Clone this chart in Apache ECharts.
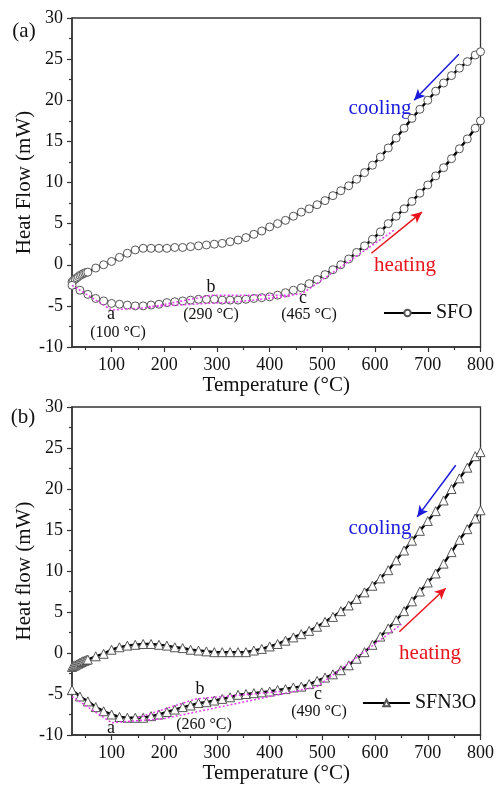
<!DOCTYPE html>
<html>
<head>
<meta charset="utf-8">
<script src="https://cdn.jsdelivr.net/npm/echarts@6/dist/echarts.min.js"></script>
<style>
  html, body { margin: 0; padding: 0; background: #fff; }
  #chart { width: 497px; height: 791px; }
</style>
</head>
<body>
<div id="chart"></div>
<script>
// temperature grids (°C)
var tempCool = [25, 28, 31, 34, 37, 40, 43, 46, 49, 52, 55, 70, 85, 100, 115, 130, 145, 160, 175, 190, 205, 220, 235, 250, 265, 280, 295, 310, 325, 340, 355, 370, 385, 400, 415, 430, 445, 460, 475, 490, 505, 520, 535, 550, 565, 580, 595, 610, 625, 640, 655, 670, 685, 700, 715, 730, 745, 760, 775, 790, 800];
var tempHeat = [25, 40, 55, 70, 85, 100, 115, 130, 145, 160, 175, 190, 205, 220, 235, 250, 265, 280, 295, 310, 325, 340, 355, 370, 385, 400, 415, 430, 445, 460, 475, 490, 505, 520, 535, 550, 565, 580, 595, 610, 625, 640, 655, 670, 685, 700, 715, 730, 745, 760, 775, 790, 800];

// (a) SFO heat flow (mW)
var coolA = [-2.1, -1.9, -1.75, -1.6, -1.45, -1.3, -1.2, -1.1, -1.0, -0.95, -0.9,
  -0.4, 0.0, 0.4, 0.9, 1.4, 1.8, 2.0,
  2.0, 2.0, 2.0, 2.1, 2.1, 2.2, 2.3, 2.4, 2.5, 2.6,
  2.8, 3.0, 3.3, 3.7, 4.1, 4.6, 5.0, 5.4, 5.9, 6.4,
  6.8, 7.3, 7.8, 8.4, 9.0, 9.6, 10.4, 11.2, 12.1, 13.1,
  14.2, 15.4, 16.6, 17.8, 18.9, 20.0, 21.1, 22.1, 23.0, 23.9,
  24.7, 25.5, 25.9];
var heatA = [-2.5, -3.1, -3.6, -4.1, -4.4, -4.7, -4.8, -4.9, -5.0, -5.0,
  -4.9, -4.8, -4.6, -4.5, -4.4, -4.3, -4.2, -4.2, -4.2, -4.3,
  -4.3, -4.3, -4.2, -4.1, -4.0, -3.9, -3.7, -3.4, -3.1, -2.8,
  -2.3, -1.8, -1.2, -0.6, 0.0, 0.7, 1.5, 2.3, 3.1, 4.0,
  5.0, 5.9, 6.8, 7.7, 8.7, 9.7, 10.8, 11.8, 12.9, 14.1,
  15.3, 16.6, 17.5];
var baseA1T = [25, 100, 170, 290, 440, 462, 636];
var baseA1 = [-2.5, -5.5, -5.2, -3.7, -3.7, -3.5, 4.2];
var baseA2T = [170, 340, 440];
var baseA2 = [-5.1, -4.5, -3.8];

// (b) SFN3O heat flow (mW)
var coolB = [-1.7, -1.6, -1.5, -1.4, -1.3, -1.2, -1.1, -1.0, -0.95, -0.85, -0.8,
  -0.4, -0.1, 0.4, 0.7, 0.9, 1.0, 1.1,
  1.1, 1.0, 0.9, 0.7, 0.6, 0.4, 0.3, 0.2, 0.1, 0.1,
  0.1, 0.1, 0.1, 0.3, 0.5, 0.8, 1.1, 1.5, 1.9, 2.3,
  2.7, 3.2, 3.8, 4.4, 5.1, 5.8, 6.6, 7.4, 8.2, 9.1,
  10.1, 11.3, 12.5, 13.7, 14.9, 16.1, 17.3, 18.6, 20.0, 21.3,
  22.6, 24.0, 24.5];
var heatB = [-4.5, -5.3, -5.9, -6.6, -7.1, -7.5, -7.8, -7.9, -7.9, -7.9,
  -7.7, -7.5, -7.2, -6.9, -6.6, -6.4, -6.1, -6.0, -5.8, -5.6,
  -5.4, -5.1, -5.0, -4.9, -4.8, -4.7, -4.5, -4.4, -4.2, -4.1,
  -3.8, -3.4, -3.0, -2.6, -2.1, -1.5, -0.7, 0.1, 1.0, 2.0,
  3.0, 4.0, 5.1, 6.3, 7.5, 8.6, 9.7, 10.9, 12.3, 13.8,
  15.1, 16.4, 17.4];
var baseB1T = [25, 100, 200, 490, 650];
var baseB1 = [-5.3, -8.5, -8.0, -4.1, 3.5];
var baseB2T = [150, 260, 420];
var baseB2 = [-7.9, -5.6, -4.7];

// axis ticks
var xMajor = [100, 200, 300, 400, 500, 600, 700, 800];
var xMinor = [50, 150, 250, 350, 450, 550, 650, 750];

var serif = 'Liberation Serif';

function pairs(t, v) {
  return t.map(function (x, i) { return [x, v[i]]; });
}

var chart = echarts.init(document.getElementById('chart'));

function xAxes(g) {
  return [{
    gridIndex: g, type: 'value', min: 25, max: 800, position: 'bottom',
    name: 'Temperature (°C)', nameLocation: 'middle', nameGap: 18,
    nameTextStyle: { fontFamily: serif, fontSize: 21, color: '#111', verticalAlign: 'top' },
    axisLine: { onZero: false, lineStyle: { color: '#333', width: 1.5 } },
    axisTick: { customValues: xMajor, length: 5, lineStyle: { color: '#333', width: 1.2 } },
    axisLabel: { customValues: xMajor, fontFamily: serif, fontSize: 18, color: '#111', margin: 9 },
    splitLine: { show: false }
  }, {
    gridIndex: g, type: 'value', min: 25, max: 800, position: 'bottom',
    axisLine: { show: false, onZero: false },
    axisTick: { customValues: xMinor, length: 3, lineStyle: { color: '#333', width: 1.2 } },
    axisLabel: { show: false },
    splitLine: { show: false }
  }];
}

function yAxis(g, name) {
  return {
    gridIndex: g, type: 'value', min: -10, max: 30, interval: 5,
    name: name, nameLocation: 'middle', nameGap: 37, nameMoveOverlap: false,
    nameTextStyle: { fontFamily: serif, fontSize: 21, color: '#111' },
    axisLine: { show: true, onZero: false, lineStyle: { color: '#333', width: 1.5 } },
    axisTick: { show: true, length: 5, lineStyle: { color: '#333', width: 1.2 } },
    minorTick: { show: true, splitNumber: 2, length: 3, lineStyle: { color: '#333', width: 1.2 } },
    axisLabel: { fontFamily: serif, fontSize: 18, color: '#111', margin: 9 },
    splitLine: { show: false }
  };
}

function dataSeries(name, xi, yi, t, v, sym, size) {
  return {
    name: name, type: 'line', xAxisIndex: xi, yAxisIndex: yi,
    data: pairs(t, v), symbol: sym, symbolSize: size, showAllSymbol: true,
    lineStyle: { color: '#000', width: 2.5 },
    itemStyle: { color: '#fff', borderColor: '#555', borderWidth: 1 },
    emphasis: { disabled: true }, z: 3
  };
}

function baseSeries(xi, yi, t, v) {
  return {
    name: 'base', type: 'line', xAxisIndex: xi, yAxisIndex: yi,
    data: pairs(t, v), symbol: 'none',
    lineStyle: { color: '#e040e8', width: 1.5, type: [2, 2] },
    emphasis: { disabled: true }, z: 4
  };
}

function arrow(color, from, to) {
  return {
    silent: true, symbol: ['none', 'arrow'], symbolSize: [8, 11],
    label: { show: false },
    lineStyle: { color: color, width: 1.5, type: 'solid' },
    data: [[{ coord: from }, { coord: to }]]
  };
}

var coolASeries = dataSeries('SFO', 0, 0, tempCool, coolA, 'circle', 8);
coolASeries.markLine = arrow('#1a1adc', [759, 25.6], [674, 20.0]);
var heatASeries = dataSeries('SFO', 0, 0, tempHeat, heatA, 'circle', 8);
heatASeries.markLine = arrow('#e8141e', [593, 1.4], [689, 6.4]);
var coolBSeries = dataSeries('SFN3O', 2, 1, tempCool, coolB, 'triangle', 9);
coolBSeries.markLine = arrow('#1a1adc', [753, 22.9], [680, 16.6]);
var heatBSeries = dataSeries('SFN3O', 2, 1, tempHeat, heatB, 'triangle', 9);
heatBSeries.markLine = arrow('#e8141e', [646, 2.6], [734, 7.9]);

function txt(x, y, s, size, color) {
  return {
    type: 'text', x: x, y: y,
    style: { text: s, fontFamily: serif, fontSize: size, fill: color || '#111', align: 'center', verticalAlign: 'middle' }
  };
}

chart.setOption({
  animation: false,
  backgroundColor: '#fff',
  grid: [
    { left: 72, top: 18, width: 409, height: 329, show: true, borderColor: '#333', borderWidth: 1.3 },
    { left: 72, top: 407, width: 409, height: 328, show: true, borderColor: '#333', borderWidth: 1.3 }
  ],
  xAxis: xAxes(0).concat(xAxes(1)),
  yAxis: [yAxis(0, 'Heat Flow (mW)'), yAxis(1, 'Heat flow (mW)')],
  legend: [
    { data: ['SFO'], left: 378, top: 298, itemWidth: 47, itemHeight: 8, itemGap: 4,
      textStyle: { fontFamily: serif, fontSize: 20, color: '#111' }, selectedMode: false },
    { data: ['SFN3O'], left: 357, top: 688, itemWidth: 47, itemHeight: 8, itemGap: 4,
      textStyle: { fontFamily: serif, fontSize: 20, color: '#111' }, selectedMode: false }
  ],
  series: [
    coolASeries, heatASeries,
    baseSeries(0, 0, baseA1T, baseA1), baseSeries(0, 0, baseA2T, baseA2),
    coolBSeries, heatBSeries,
    baseSeries(2, 1, baseB1T, baseB1), baseSeries(2, 1, baseB2T, baseB2)
  ],
  graphic: [
    txt(24, 31, '(a)', 21),
    txt(23, 417, '(b)', 21),
    txt(380, 108, 'cooling', 21, '#1a1adc'),
    txt(405, 265, 'heating', 21, '#e8141e'),
    txt(380, 528, 'cooling', 21, '#1a1adc'),
    txt(430, 653, 'heating', 21, '#e8141e'),
    txt(111, 314, 'a', 18),
    txt(118, 333, '(100 °C)', 16),
    txt(211, 287, 'b', 18),
    txt(211, 315, '(290 °C)', 16),
    txt(303, 298, 'c', 18),
    txt(309, 315, '(465 °C)', 16),
    txt(111, 728, 'a', 18),
    txt(200, 689, 'b', 18),
    txt(204, 725, '(260 °C)', 16),
    txt(318, 694, 'c', 18),
    txt(319, 712, '(490 °C)', 16)
  ]
});
</script>
</body>
</html>
